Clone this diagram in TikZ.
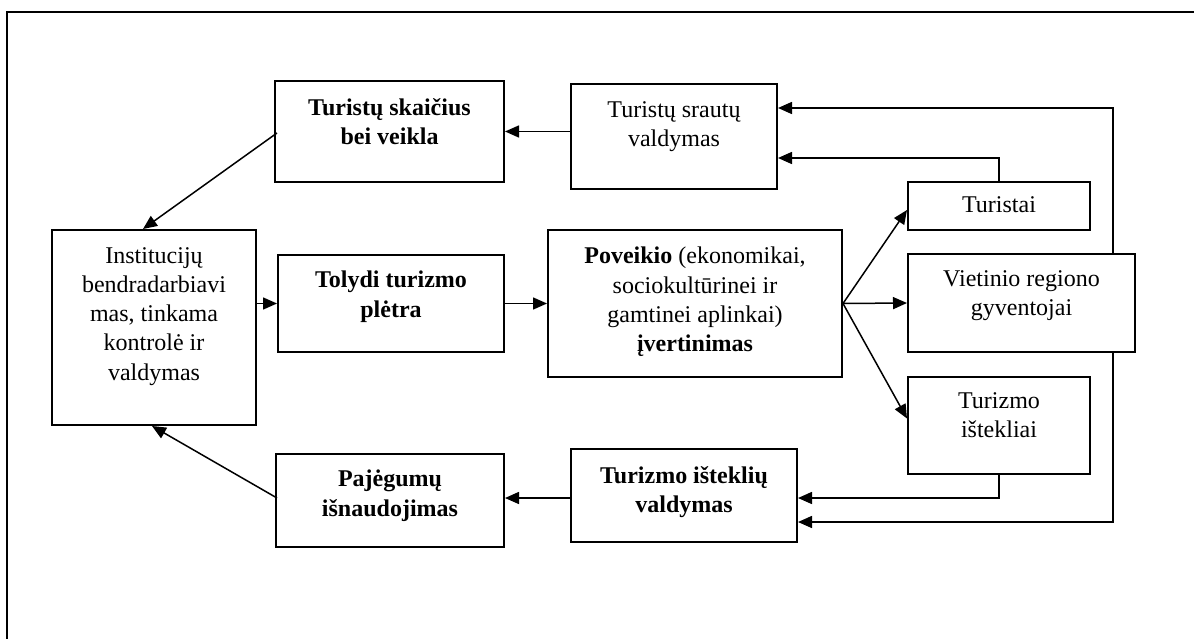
\documentclass[tikz,border=0pt]{standalone}
\usepackage{fontspec}
\setmainfont{Liberation Serif}
\usetikzlibrary{arrows.meta,calc}
\begin{document}
\begin{tikzpicture}[x=1pt,y=-1pt,
  box/.style={draw=black,line width=2pt,rectangle,inner sep=0pt},
  txt/.style={anchor=north,align=center,inner sep=0pt,font=\fontsize{24}{29.3}\selectfont},
  txtb/.style={txt,font=\fontsize{24}{29.3}\selectfont\bfseries},
  arr/.style={line width=1.5pt,-{Triangle[length=14pt,width=12pt]}},
  frame/.style={line width=2pt}]
\useasboundingbox (0,0) rectangle (1194,639);
% frame
\coordinate (fbl) at (7,660);
\coordinate (ftl) at (7,12);
\coordinate (ftr) at (1220,12);
\draw[frame] (fbl) -- (ftl) -- (ftr);
% boxes
\node[box,minimum width=229pt,minimum height=101pt] (sk) at (389.5,131.5) {};
\node[box,minimum width=206pt,minimum height=105pt] (sr) at (674,136.5) {};
\node[box,minimum width=204pt,minimum height=195pt] (in) at (154,327.5) {};
\node[box,minimum width=226pt,minimum height=97pt] (to) at (391,303.5) {};
\node[box,minimum width=294pt,minimum height=147pt] (po) at (695,303.5) {};
\node[box,minimum width=182pt,minimum height=48pt] (tu) at (999,206) {};
\node[box,minimum width=227pt,minimum height=98pt] (vi) at (1021.5,303) {};
\node[box,minimum width=182pt,minimum height=97pt] (is) at (999,425.5) {};
\node[box,minimum width=226pt,minimum height=93pt] (iv) at (684,495.5) {};
\node[box,minimum width=228pt,minimum height=93pt] (pa) at (390,500.5) {};
% texts
\node[txtb] (tsk) at ([yshift=-18pt]sk.north) {Turistų skaičius\\bei veikla};
\node[txt] (tsr) at ([yshift=-18pt]sr.north) {Turistų srautų\\valdymas};
\node[txt] (tin) at ([yshift=-18pt]in.north) {Institucijų\\bendradarbiavi\\mas, tinkama\\kontrolė ir\\valdymas};
\node[txtb] (tto) at ([yshift=-17pt]to.north) {Tolydi turizmo\\plėtra};
\node[txt] (tpo) at ([yshift=-18pt]po.north) {\textbf{Poveikio} (ekonomikai,\\sociokultūrinei ir\\gamtinei aplinkai)\\\textbf{įvertinimas}};
\node[txt] (ttu) at ([yshift=-15pt]tu.north) {Turistai};
\node[txt] (tvi) at ([yshift=-17pt]vi.north) {Vietinio regiono\\gyventojai};
\node[txt] (tis) at ([yshift=-16pt]is.north) {Turizmo\\ištekliai};
\node[txtb] (tiv) at ([yshift=-18pt]iv.north) {Turizmo išteklių\\valdymas};
\node[txtb] (tpa) at ([yshift=-17pt]pa.north) {Pajėgumų\\išnaudojimas};
% helper coordinates
\coordinate (srA) at ([yshift=-21.5pt]sr.east);
\coordinate (srB) at ([yshift=28.5pt]sr.east);
\coordinate (viN) at ([xshift=91.5pt]vi.north);
\coordinate (viS) at ([xshift=91.5pt]vi.south);
\coordinate (ivA) at ([yshift=-2.5pt]iv.east);
\coordinate (ivB) at ([yshift=-26.5pt]iv.east);
\coordinate (ivW) at ([yshift=-2.5pt]iv.west);
% connectors
\draw[arr] (sr.west|-sk.east) -- (sk.east);
\draw[arr] ([xshift=3pt,yshift=-1.5pt]sk.west) -- ([xshift=-11pt]in.north);
\draw[arr] (in.east|-to.west) -- (to.west);
\draw[arr] (to.east) -- (po.west);
\draw[arr] (po.east) -- ([yshift=-4pt]tu.west);
\draw[arr] (po.east) -- (vi.west);
\draw[arr] (po.east) -- ([yshift=7pt]is.west);
\draw[arr] (tu.north) |- (srA);
\draw[arr] (viN) |- (srB);
\draw[arr] (is.south) |- (ivA);
\draw[arr] (viS) |- (ivB);
\draw[arr] (ivW) -- (ivW-|pa.east);
\draw[arr] ([xshift=2pt,yshift=2.5pt]pa.west) -- ([xshift=-2pt]in.south);
\end{tikzpicture}
\end{document}
